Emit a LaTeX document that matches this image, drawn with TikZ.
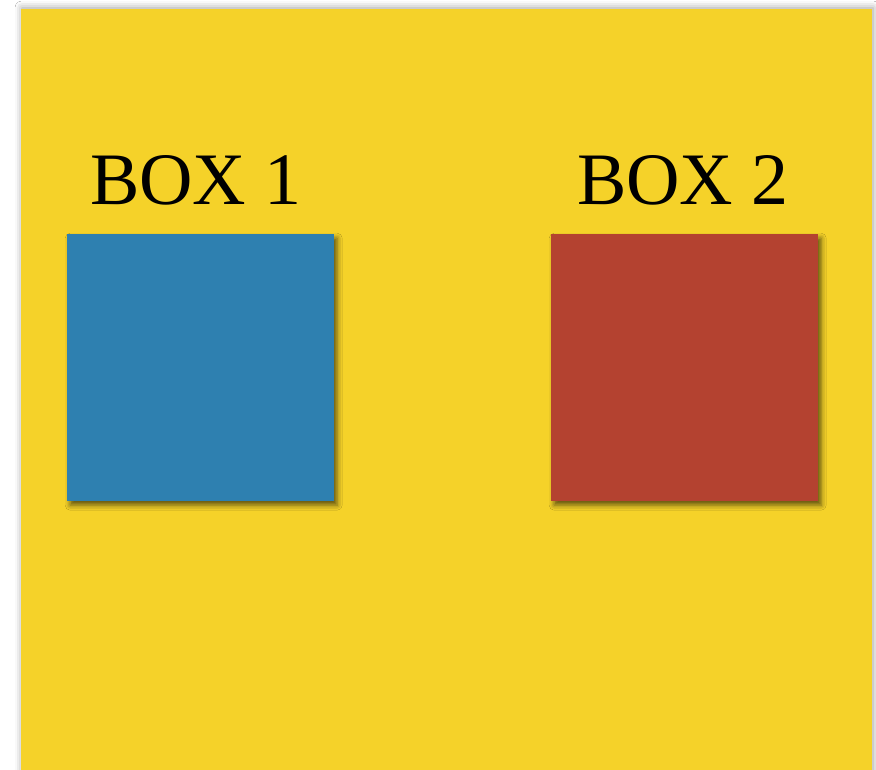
\documentclass[tikz,border=0pt]{standalone}
\usepackage{fontspec}
\setmainfont{Liberation Serif}
\usetikzlibrary{shadows.blur}
\definecolor{panelyellow}{RGB}{245,210,41}
\definecolor{boxblue}{RGB}{46,128,176}
\definecolor{boxred}{RGB}{180,66,48}
\begin{document}
\begin{tikzpicture}[x=1pt,y=-1pt,
  panel/.style={fill=panelyellow, draw=none, blur shadow={shadow xshift=1pt, shadow yshift=1pt, shadow blur radius=7pt, shadow opacity=40}},
  sq/.style={draw=none, minimum width=267pt, minimum height=267pt, inner sep=0pt, anchor=north west,
    blur shadow={shadow xshift=3pt, shadow yshift=-4pt, shadow blur radius=5pt, shadow opacity=60}},
  lbl/.style={font=\fontsize{74}{74}\selectfont, inner sep=0pt, anchor=base}]
\useasboundingbox (0,0) rectangle (876,770);
\fill[white] (0,0) rectangle (876,770);
\path[panel] (21,9) rectangle (872,790);
\node[sq, fill=boxblue] (box1) at (67,234) {};
\node[sq, fill=boxred] (box2) at (551,234) {};
\node[lbl] (l1) at (196,205) {BOX 1};
\node[lbl] (l2) at (683,205) {BOX 2};
\end{tikzpicture}
\end{document}
